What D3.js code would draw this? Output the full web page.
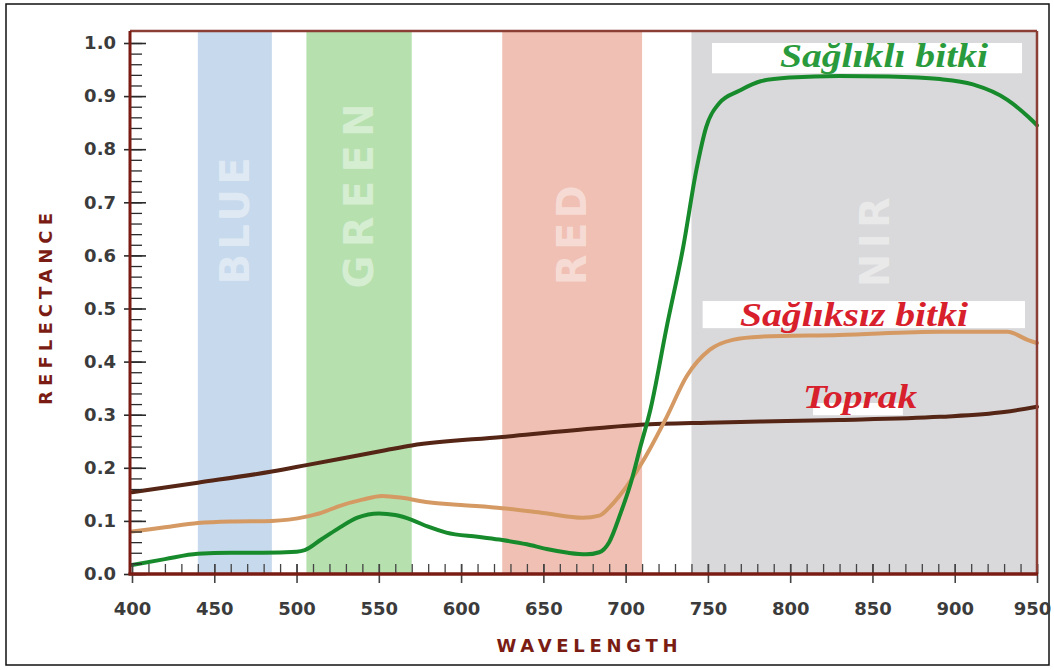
<!DOCTYPE html>
<html><head><meta charset="utf-8">
<script src="https://cdn.jsdelivr.net/npm/d3@7"></script>
<style>body{margin:0;background:#fff}</style>
</head><body>
<svg id="c" width="1054" height="670"></svg>
<script>
// ---------- data ----------
const bandNames  = ["BLUE", "GREEN", "RED", "NIR"];
const bandStart  = [440, 506, 625, 740];
const bandEnd    = [485, 570, 710, 950];
const bandColors = ["#c7d9ec", "#b6e0ae", "#f0c0b4", "#d9d9db"];

const healthyWl  = [400,420,440,460,480,500,505,515,525,537,550,560,570,580,591,610,625,640,652,665,676,684,690,697,703,709,715,725,735,743,749,757,769,782,800,830,860,891,911,932,945,950];
const healthyVal = [0.017,0.028,0.038,0.040,0.040,0.042,0.045,0.065,0.085,0.106,0.114,0.111,0.102,0.089,0.078,0.070,0.064,0.056,0.047,0.040,0.037,0.041,0.060,0.115,0.170,0.240,0.309,0.466,0.616,0.761,0.842,0.887,0.910,0.928,0.935,0.938,0.937,0.932,0.922,0.893,0.860,0.845];

const unhealthyWl  = [400,420,440,460,485,506,515,525,540,552,565,580,600,625,650,674,684,690,697,710,725,737,751,765,782,830,891,932,945,950];
const unhealthyVal = [0.080,0.088,0.096,0.099,0.100,0.108,0.115,0.127,0.140,0.147,0.143,0.135,0.130,0.124,0.115,0.106,0.110,0.125,0.150,0.210,0.296,0.372,0.422,0.441,0.447,0.450,0.456,0.456,0.440,0.435];

const soilWl  = [400,440,485,506,554,570,625,684,709,750,782,830,891,930,950];
const soilVal = [0.154,0.172,0.193,0.205,0.233,0.242,0.258,0.275,0.281,0.285,0.287,0.290,0.296,0.305,0.315];

const seriesNames  = ["Sağlıklı bitki", "Sağlıksız bitki", "Toprak"];
const seriesColors = ["#178a2c", "#d59a64", "#552516"];
const labelColors  = ["#2a9b3c", "#d8202c", "#d8202c"];

const xTickValues = [400,450,500,550,600,650,700,750,800,850,900,950];
const yTickValues = [0,0.1,0.2,0.3,0.4,0.5,0.6,0.7,0.8,0.9,1.0];
const yTickLabels = ["0.0","0.1","0.2","0.3","0.4","0.5","0.6","0.7","0.8","0.9","1.0"];
const xTitle = "WAVELENGTH";
const yTitle = "REFLECTANCE";

// ---------- drawing ----------
const svg = d3.select("#c");
const x = d3.scaleLinear().domain([400, 950]).range([132, 1037]);
const y = d3.scaleLinear().domain([0, 1]).range([574, 43]);
const yTop = 1.0226;
const axisRed = "#7a1c14";

// outer border
svg.append("rect").attr("x", 6).attr("y", 4).attr("width", 1043).attr("height", 661)
  .attr("fill", "none").attr("stroke", "#111").attr("stroke-width", 1.5);

// bands
svg.append("g").selectAll("rect").data(bandNames).join("rect")
  .attr("x", (d, i) => x(bandStart[i]))
  .attr("width", (d, i) => x(bandEnd[i]) - x(bandStart[i]))
  .attr("y", y(yTop)).attr("height", y(0) - y(yTop))
  .attr("fill", (d, i) => bandColors[i]);

// band labels
const bandLabelX = [462.5, 538, 667.5, 851.5];
const bandLabelY = [0.665, 0.712, 0.638, 0.625];
const bandLabelLen = [127, 185, 100, 90];
svg.append("g").selectAll("text").data(bandNames).join("text")
  .attr("transform", (d, i) => `translate(${x(bandLabelX[i]) + 14},${y(bandLabelY[i])}) rotate(-90)`)
  .attr("text-anchor", "middle")
  .attr("font-family", "DejaVu Sans, sans-serif")
  .attr("font-weight", "bold")
  .attr("font-size", 40)
  .attr("fill", "#ffffff").attr("fill-opacity", 0.45)
  .attr("textLength", (d, i) => bandLabelLen[i])
  .attr("lengthAdjust", "spacing")
  .text(d => d);

// label boxes
const boxX0 = [752.5, 746.8, 813.9];
const boxX1 = [940.9, 942.7, 868.5];
const boxY0 = [1.0, 0.514, 0.322];
const boxY1 = [0.943, 0.463, 0.299];
svg.append("g").selectAll("rect").data(seriesNames).join("rect")
  .attr("x", (d, i) => x(boxX0[i])).attr("width", (d, i) => x(boxX1[i]) - x(boxX0[i]))
  .attr("y", (d, i) => y(boxY0[i])).attr("height", (d, i) => y(boxY1[i]) - y(boxY0[i]))
  .attr("fill", "#fff");

// curves
const line = d3.line().x(d => x(d[0])).y(d => y(d[1])).curve(d3.curveMonotoneX);
const seriesData = [
  d3.zip(healthyWl, healthyVal),
  d3.zip(unhealthyWl, unhealthyVal),
  d3.zip(soilWl, soilVal)
];
svg.append("g").selectAll("path").data([2, 1, 0]).join("path")
  .attr("d", i => line(seriesData[i]))
  .attr("fill", "none")
  .attr("stroke", i => seriesColors[i])
  .attr("stroke-width", 4)
  .attr("stroke-linejoin", "round").attr("stroke-linecap", "round");

// series labels
const labX = [793.8, 769.5, 807.8];
const labY = [0.955, 0.467, 0.313];
const labLen = [208, 228, 114];
svg.append("g").selectAll("text").data(seriesNames).join("text")
  .attr("x", (d, i) => x(labX[i])).attr("y", (d, i) => y(labY[i]))
  .attr("font-family", "Liberation Serif, Times New Roman, serif")
  .attr("font-weight", "bold").attr("font-style", "italic")
  .attr("font-size", 33)
  .attr("fill", (d, i) => labelColors[i])
  .attr("textLength", (d, i) => labLen[i])
  .attr("lengthAdjust", "spacingAndGlyphs")
  .text(d => d);

// ---------- axes ----------
// y minor ticks inward
svg.append("g").attr("transform", `translate(${x(400) - 2},0)`)
  .call(d3.axisRight(y).tickValues(d3.range(0, 51).map(i => i * 0.02)).tickSize(12).tickFormat(""))
  .call(g => g.select(".domain").remove())
  .call(g => g.selectAll("line").attr("stroke", "#2a2a2a").attr("stroke-width", 1.3));
// y major ticks inward
svg.append("g").attr("transform", `translate(${x(400) - 2},0)`)
  .call(d3.axisRight(y).tickValues(yTickValues).tickSize(16).tickFormat(""))
  .call(g => g.select(".domain").remove())
  .call(g => g.selectAll("line").attr("stroke", "#2a2a2a").attr("stroke-width", 1.6));
// y outward ticks + labels
svg.append("g").attr("transform", `translate(${x(400) - 2},0)`)
  .call(d3.axisLeft(y).tickValues(yTickValues).tickSize(6).tickPadding(8)
        .tickFormat((d, i) => yTickLabels[i]))
  .call(g => g.select(".domain").remove())
  .call(g => g.selectAll("line").attr("stroke", "#2a2a2a").attr("stroke-width", 1.6))
  .call(g => g.selectAll("text").attr("font-family", "DejaVu Sans, sans-serif")
        .attr("font-weight", "bold").attr("font-size", 18).attr("fill", "#3b3b3b"));

// x minor ticks inward
svg.append("g").attr("transform", `translate(0,${y(0)})`)
  .call(d3.axisBottom(x).tickValues(d3.range(400, 951, 10)).tickSize(-10).tickFormat(""))
  .call(g => g.select(".domain").remove())
  .call(g => g.selectAll("line").attr("stroke", "#444").attr("stroke-width", 1.3));
// x major ticks + labels
svg.append("g").attr("transform", `translate(0,${y(0)})`)
  .call(d3.axisBottom(x).tickValues(xTickValues).tickSizeInner(9).tickSizeOuter(0).tickPadding(19))
  .call(g => g.select(".domain").remove())
  .call(g => g.selectAll("line").attr("y1", -10).attr("stroke", "#444").attr("stroke-width", 1.6))
  .call(g => g.selectAll("text").attr("font-family", "DejaVu Sans, sans-serif")
        .attr("font-weight", "bold").attr("font-size", 18).attr("fill", "#3b3b3b")
        .attr("dx", d => d === 950 ? -5 : 0));

// frame
svg.append("line").attr("x1", x(400) - 2).attr("x2", x(950)).attr("y1", y(yTop)).attr("y2", y(yTop))
  .attr("stroke", "#8a3e34").attr("stroke-width", 2.5);
svg.append("line").attr("x1", x(950)).attr("x2", x(950)).attr("y1", y(yTop)).attr("y2", y(0))
  .attr("stroke", "#8a3e34").attr("stroke-width", 2.5);
svg.append("line").attr("x1", x(400) - 2).attr("x2", x(400) - 2).attr("y1", y(yTop)).attr("y2", y(0) + 1)
  .attr("stroke", axisRed).attr("stroke-width", 3);
svg.append("line").attr("x1", x(400) - 3.5).attr("x2", x(950) + 1).attr("y1", y(0)).attr("y2", y(0))
  .attr("stroke", axisRed).attr("stroke-width", 3.5);

// axis titles
svg.append("text").attr("x", 587).attr("y", 652).attr("text-anchor", "middle")
  .attr("font-family", "DejaVu Sans, sans-serif").attr("font-weight", "bold").attr("font-size", 18)
  .attr("fill", axisRed).attr("textLength", 181).attr("lengthAdjust", "spacing").text(xTitle);
svg.append("text").attr("transform", "translate(52,309) rotate(-90)").attr("text-anchor", "middle")
  .attr("font-family", "DejaVu Sans, sans-serif").attr("font-weight", "bold").attr("font-size", 18)
  .attr("fill", axisRed).attr("textLength", 192).attr("lengthAdjust", "spacing").text(yTitle);
</script>
</body></html>
